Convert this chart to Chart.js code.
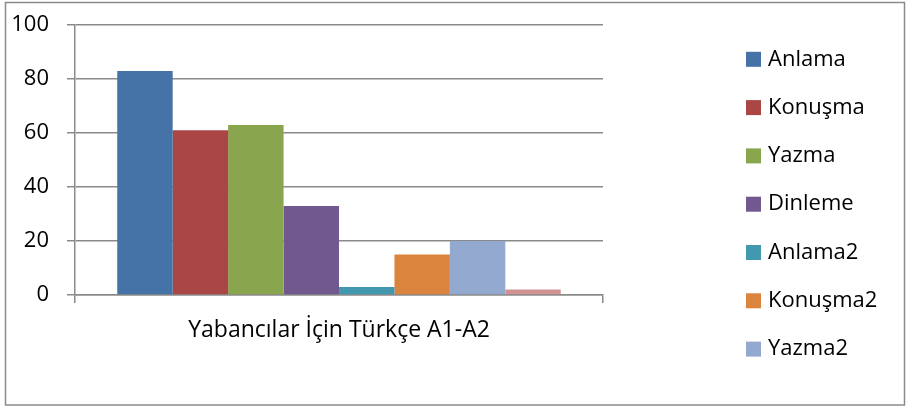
<!DOCTYPE html>
<html><head><meta charset="utf-8">
<script src="https://cdn.jsdelivr.net/npm/chart.js@4"></script>
<style>html,body{margin:0;padding:0;background:#fff}#wrap{width:906px;height:406px}</style>
</head>
<body><div id="wrap"><canvas id="c" width="906" height="406"></canvas></div>
<script>
const categories = ['Yabancılar İçin Türkçe A1-A2'];
const seriesNames = ['Anlama','Konuşma','Yazma','Dinleme','Anlama2','Konuşma2','Yazma2','Dinleme2'];
const seriesValues = [[83],[61],[63],[33],[3],[15],[20],[2]];
const seriesColors = ['#4572A7','#AA4643','#89A54E','#71588F','#4198AF','#DB843D','#93A9CF','#D19392'];
const yTickValues = [0,20,40,60,80,100];

const FONT = '"Open Sans", sans-serif';
const GRID = '#8a8a8a';

const framePlugin = {
  id: 'frame',
  beforeDraw(chart) {
    const ctx = chart.ctx;
    ctx.save();
    ctx.fillStyle = '#fff';
    ctx.fillRect(0, 0, chart.width, chart.height);
    ctx.strokeStyle = GRID;
    ctx.lineWidth = 1.5;
    ctx.strokeRect(5.5, 2.5, 899, 402.5);
    ctx.restore();
  }
};

const legendPlugin = {
  id: 'sideLegend',
  afterDraw(chart) {
    const ctx = chart.ctx;
    ctx.save();
    ctx.font = '22px ' + FONT;
    ctx.textBaseline = 'middle';
    ctx.textAlign = 'left';
    chart.data.datasets.forEach((ds, i) => {
      const cy = 59.3 + i * 48.3;
      if (cy > 380) return;
      ctx.fillStyle = ds.backgroundColor;
      ctx.fillRect(746, cy - 7.5, 15, 15);
      ctx.fillStyle = '#000';
      ctx.fillText(ds.label, 768, cy);
    });
    ctx.restore();
  }
};

new Chart(document.getElementById('c'), {
  type: 'bar',
  data: {
    labels: categories,
    datasets: seriesNames.map((n, i) => ({
      label: n,
      data: seriesValues[i],
      backgroundColor: seriesColors[i],
      borderWidth: 0,
      categoryPercentage: 0.84,
      barPercentage: 1.0
    }))
  },
  options: {
    responsive: false,
    animation: false,
    devicePixelRatio: 1,
    layout: { padding: { left: 0, top: 25, right: 303, bottom: 0 } },
    plugins: { legend: { display: false }, tooltip: { enabled: false }, title: { display: false } },
    scales: {
      x: {
        offset: true,
        afterFit(s) { s.height = 111; s.paddingLeft = 0; s.paddingRight = 0; },
        grid: { display: true, drawOnChartArea: false, drawTicks: true, tickLength: 8, offset: true, color: GRID, lineWidth: 1.5 },
        border: { display: true, color: GRID, width: 1.5 },
        ticks: { color: '#000', font: { family: FONT, size: 23 }, padding: 14, maxRotation: 0 }
      },
      y: {
        min: 0, max: 100,
        afterFit(s) { s.width = 75; s.paddingTop = 0; s.paddingBottom = 0; },
        afterBuildTicks(s) { s.ticks = yTickValues.map(v => ({ value: v })); },
        grid: { color: GRID, lineWidth: 1.5, tickLength: 8, drawTicks: true },
        border: { display: true, color: GRID, width: 1.5 },
        ticks: { color: '#000', font: { family: FONT, size: 22 }, padding: 18 }
      }
    }
  },
  plugins: [framePlugin, legendPlugin]
});
</script>
</body></html>
